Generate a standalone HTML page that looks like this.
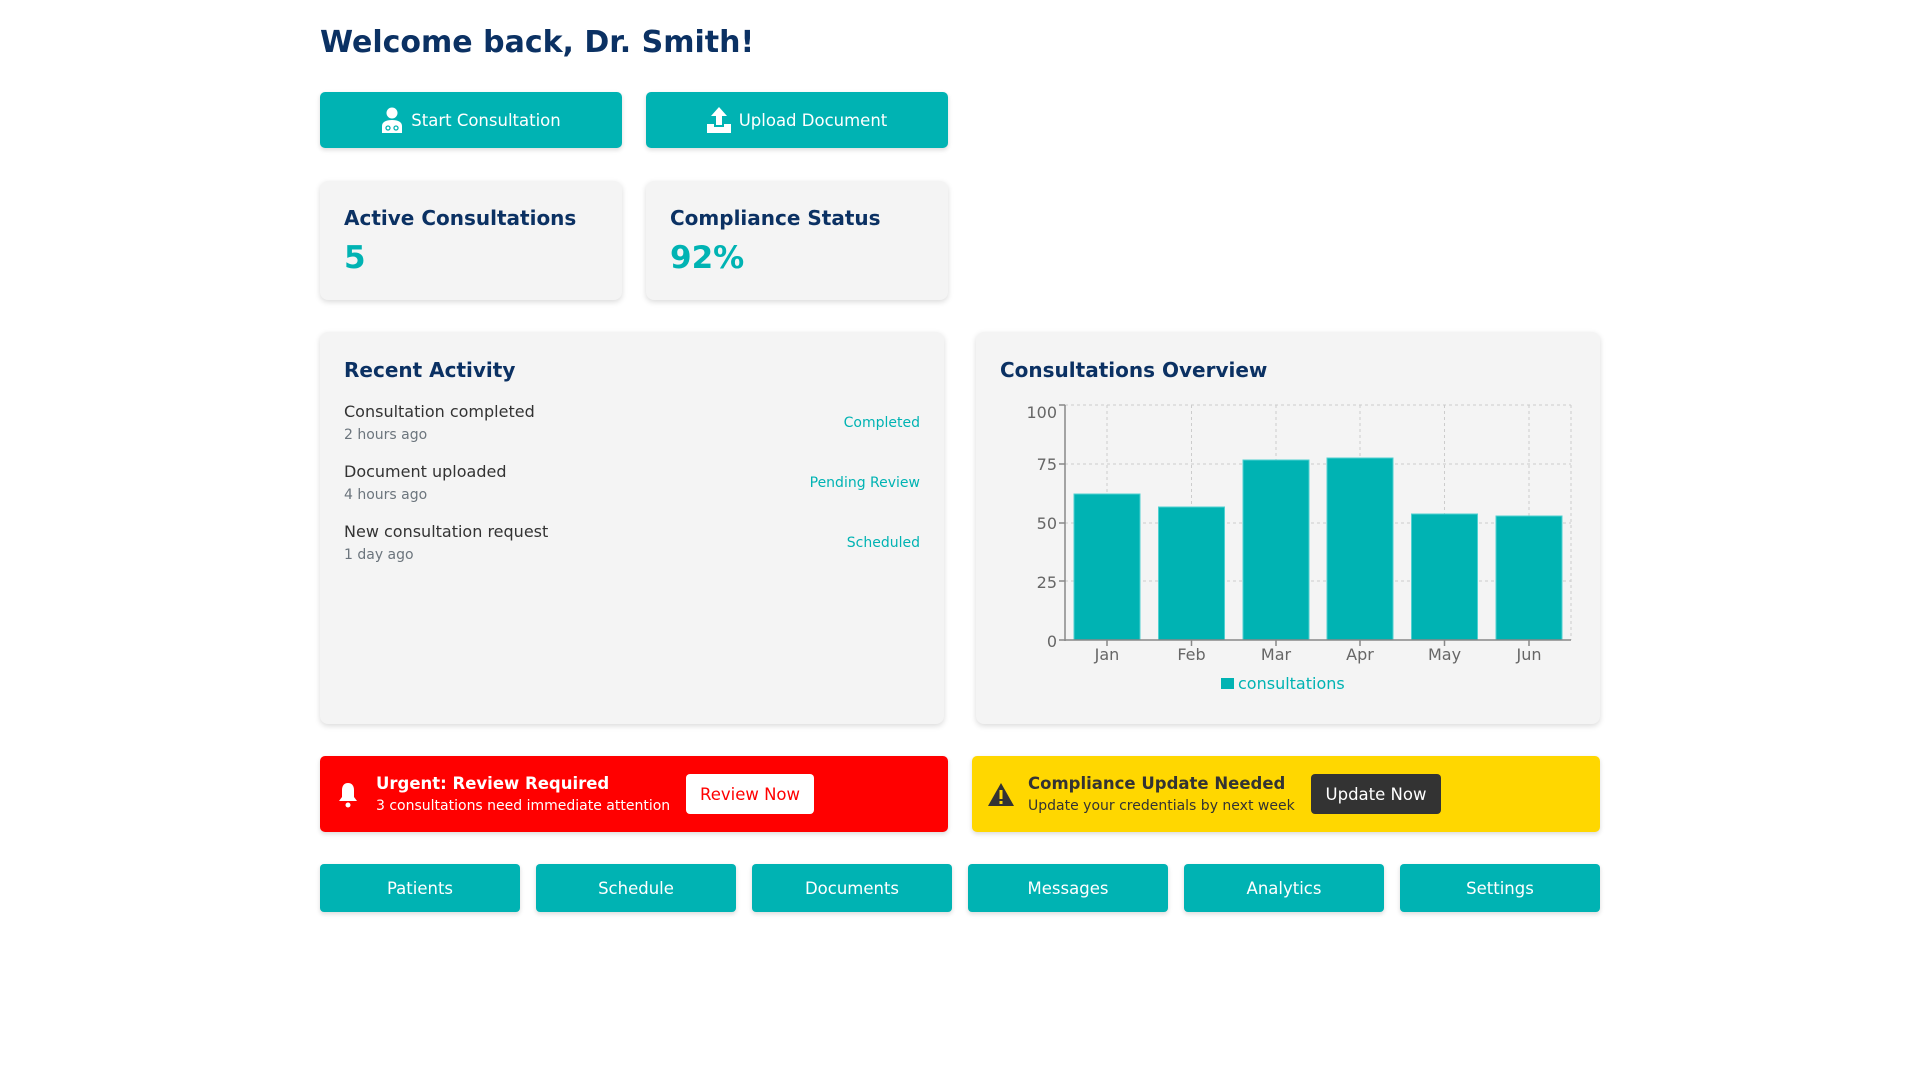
<!DOCTYPE html>
<html><head><meta charset="utf-8"><style>
body{margin:0;width:1920px;height:1080px;background:#fff;font-family:"DejaVu Sans","Liberation Sans",sans-serif;position:relative;overflow:hidden}
.a{position:absolute}
h1{position:absolute;left:320px;top:25px;margin:0;font-size:30px;font-weight:bold;color:#0b3163}
.btn{position:absolute;background:#00b3b3;color:#fff;border-radius:5px;box-shadow:0 2px 5px rgba(0,0,0,.15);display:flex;align-items:center;justify-content:center;font-size:16.5px}
.card{position:absolute;background:#f4f4f4;border-radius:8px;box-shadow:0 2px 6px rgba(0,0,0,.15)}
.ct{position:absolute;left:24px;font-size:20px;font-weight:bold;color:#0b3163}
.val{position:absolute;left:24px;font-size:31px;font-weight:bold;color:#00b3b3}
.row{position:absolute;left:24px;right:24px}
.row .m{font-size:16px;color:#333}
.row .t{font-size:14px;color:#6c757d;margin-top:6px}
.row .s{position:absolute;right:0;top:13px;font-size:14px;color:#00b3b3}
.alert{position:absolute;top:756px;height:76px;width:628px;border-radius:5px;box-shadow:0 2px 5px rgba(0,0,0,.15)}
.alert .h{position:absolute;left:56px;top:18px;font-size:16.5px;font-weight:bold}
.alert .p{position:absolute;left:56px;top:42px;font-size:14px}
.ab{position:absolute;top:18px;height:40px;border-radius:4px;display:flex;align-items:center;justify-content:center;font-size:16.5px}
.nav{position:absolute;top:864px;width:200px;height:48px;background:#00b3b3;color:#fff;border-radius:4px;box-shadow:0 2px 5px rgba(0,0,0,.15);display:flex;align-items:center;justify-content:center;font-size:16.5px}
</style></head><body>
<h1>Welcome back, Dr. Smith!</h1>
<div class="btn" style="left:320px;top:92px;width:302px;height:56px"><svg width="22" height="26" viewBox="0 0 22 26" style="margin-right:8px"><circle cx="11" cy="6" r="5.5" fill="#fff"/><path d="M1 26v-7c0-4 4-6 10-6s10 2 10 6v7z" fill="#fff"/><circle cx="7" cy="21" r="2" fill="none" stroke="#00b3b3" stroke-width="1.3"/><circle cx="15" cy="21" r="2" fill="none" stroke="#00b3b3" stroke-width="1.3"/></svg>Start Consultation</div>
<div class="btn" style="left:646px;top:92px;width:302px;height:56px"><svg width="24" height="26" viewBox="0 0 24 26" style="margin-right:8px"><path d="M12 0l8 9h-5v9h-6v-9h-5z" fill="#fff"/><path d="M0 17h7v3h10v-3h7v9h-24z" fill="#fff"/></svg>Upload Document</div>
<div class="card" style="left:320px;top:181px;width:302px;height:119px"><div class="ct" style="top:25px">Active Consultations</div><div class="val" style="top:59px">5</div></div>
<div class="card" style="left:646px;top:181px;width:302px;height:119px"><div class="ct" style="top:25px">Compliance Status</div><div class="val" style="top:59px">92%</div></div>
<div class="card" style="left:320px;top:332px;width:624px;height:392px">
<div class="ct" style="top:26px">Recent Activity</div>
<div class="row" style="top:70px"><div class="m">Consultation completed</div><div class="t">2 hours ago</div><div class="s">Completed</div></div>
<div class="row" style="top:130px"><div class="m">Document uploaded</div><div class="t">4 hours ago</div><div class="s">Pending Review</div></div>
<div class="row" style="top:190px"><div class="m">New consultation request</div><div class="t">1 day ago</div><div class="s">Scheduled</div></div>
</div>
<div class="card" style="left:976px;top:332px;width:624px;height:392px"><div class="ct" style="top:26px">Consultations Overview</div></div>
<svg class="a" style="left:0;top:0" width="1920" height="1080" font-family="DejaVu Sans, sans-serif">
<g stroke="#ccc" stroke-dasharray="3,3" stroke-width="1">
<line x1="1065" y1="405" x2="1571" y2="405"/><line x1="1065" y1="464" x2="1571" y2="464"/><line x1="1065" y1="523" x2="1571" y2="523"/><line x1="1065" y1="581" x2="1571" y2="581"/>
<line x1="1107" y1="405" x2="1107" y2="640"/><line x1="1191.5" y1="405" x2="1191.5" y2="640"/><line x1="1276" y1="405" x2="1276" y2="640"/><line x1="1360" y1="405" x2="1360" y2="640"/><line x1="1444.5" y1="405" x2="1444.5" y2="640"/><line x1="1529" y1="405" x2="1529" y2="640"/><line x1="1571" y1="405" x2="1571" y2="640"/>
</g>
<g fill="#00b3b3" stroke="#4fd1d1" stroke-width="1">
<rect x="1074" y="494" width="66" height="146"/><rect x="1158.5" y="507" width="66" height="133"/><rect x="1243" y="460" width="66" height="180"/><rect x="1327" y="458" width="66" height="182"/><rect x="1411.5" y="514" width="66" height="126"/><rect x="1496" y="516" width="66" height="124"/>
</g>
<g stroke="#888" stroke-width="1.5"><line x1="1065" y1="405" x2="1065" y2="641"/><line x1="1065" y1="640" x2="1571" y2="640"/>
<line x1="1059" y1="405" x2="1065" y2="405"/><line x1="1059" y1="464" x2="1065" y2="464"/><line x1="1059" y1="523" x2="1065" y2="523"/><line x1="1059" y1="581" x2="1065" y2="581"/><line x1="1059" y1="640" x2="1065" y2="640"/>
<line x1="1107" y1="640" x2="1107" y2="646"/><line x1="1191.5" y1="640" x2="1191.5" y2="646"/><line x1="1276" y1="640" x2="1276" y2="646"/><line x1="1360" y1="640" x2="1360" y2="646"/><line x1="1444.5" y1="640" x2="1444.5" y2="646"/><line x1="1529" y1="640" x2="1529" y2="646"/></g>
<g fill="#666" font-size="16" text-anchor="end"><text x="1057" y="418">100</text><text x="1057" y="470">75</text><text x="1057" y="529">50</text><text x="1057" y="588">25</text><text x="1057" y="647">0</text></g>
<g fill="#666" font-size="16" text-anchor="middle"><text x="1107" y="660">Jan</text><text x="1191.5" y="660">Feb</text><text x="1276" y="660">Mar</text><text x="1360" y="660">Apr</text><text x="1444.5" y="660">May</text><text x="1529" y="660">Jun</text></g>
<rect x="1221" y="678" width="13" height="11" fill="#00b3b3"/><text x="1238" y="689" fill="#00b3b3" font-size="16">consultations</text>
</svg>
<div class="alert" style="left:320px;background:#ff0000;color:#fff">
<svg class="a" style="left:17px;top:26px" width="22" height="26" viewBox="0 0 22 26"><path d="M11 1c-4 0-6 3-6 7v7l-3 4h18l-3-4v-7c0-4-2-7-6-7z" fill="#fff"/><circle cx="11" cy="23" r="2.5" fill="#fff"/></svg>
<div class="h">Urgent: Review Required</div><div class="p">3 consultations need immediate attention</div>
<div class="ab" style="left:366px;width:128px;background:#fff;color:#ff0000">Review Now</div></div>
<div class="alert" style="left:972px;background:#ffd700;color:#333">
<svg class="a" style="left:16px;top:27px" width="26" height="23" viewBox="0 0 26 23"><path d="M13 0l13 23h-26z" fill="#333"/><rect x="11.5" y="7" width="3" height="9" fill="#ffd700"/><rect x="11.5" y="18" width="3" height="3" fill="#ffd700"/></svg>
<div class="h">Compliance Update Needed</div><div class="p">Update your credentials by next week</div>
<div class="ab" style="left:339px;width:130px;background:#333;color:#fff">Update Now</div></div>
<div class="nav" style="left:320px">Patients</div>
<div class="nav" style="left:536px">Schedule</div>
<div class="nav" style="left:752px">Documents</div>
<div class="nav" style="left:968px">Messages</div>
<div class="nav" style="left:1184px">Analytics</div>
<div class="nav" style="left:1400px">Settings</div>
</body></html>
